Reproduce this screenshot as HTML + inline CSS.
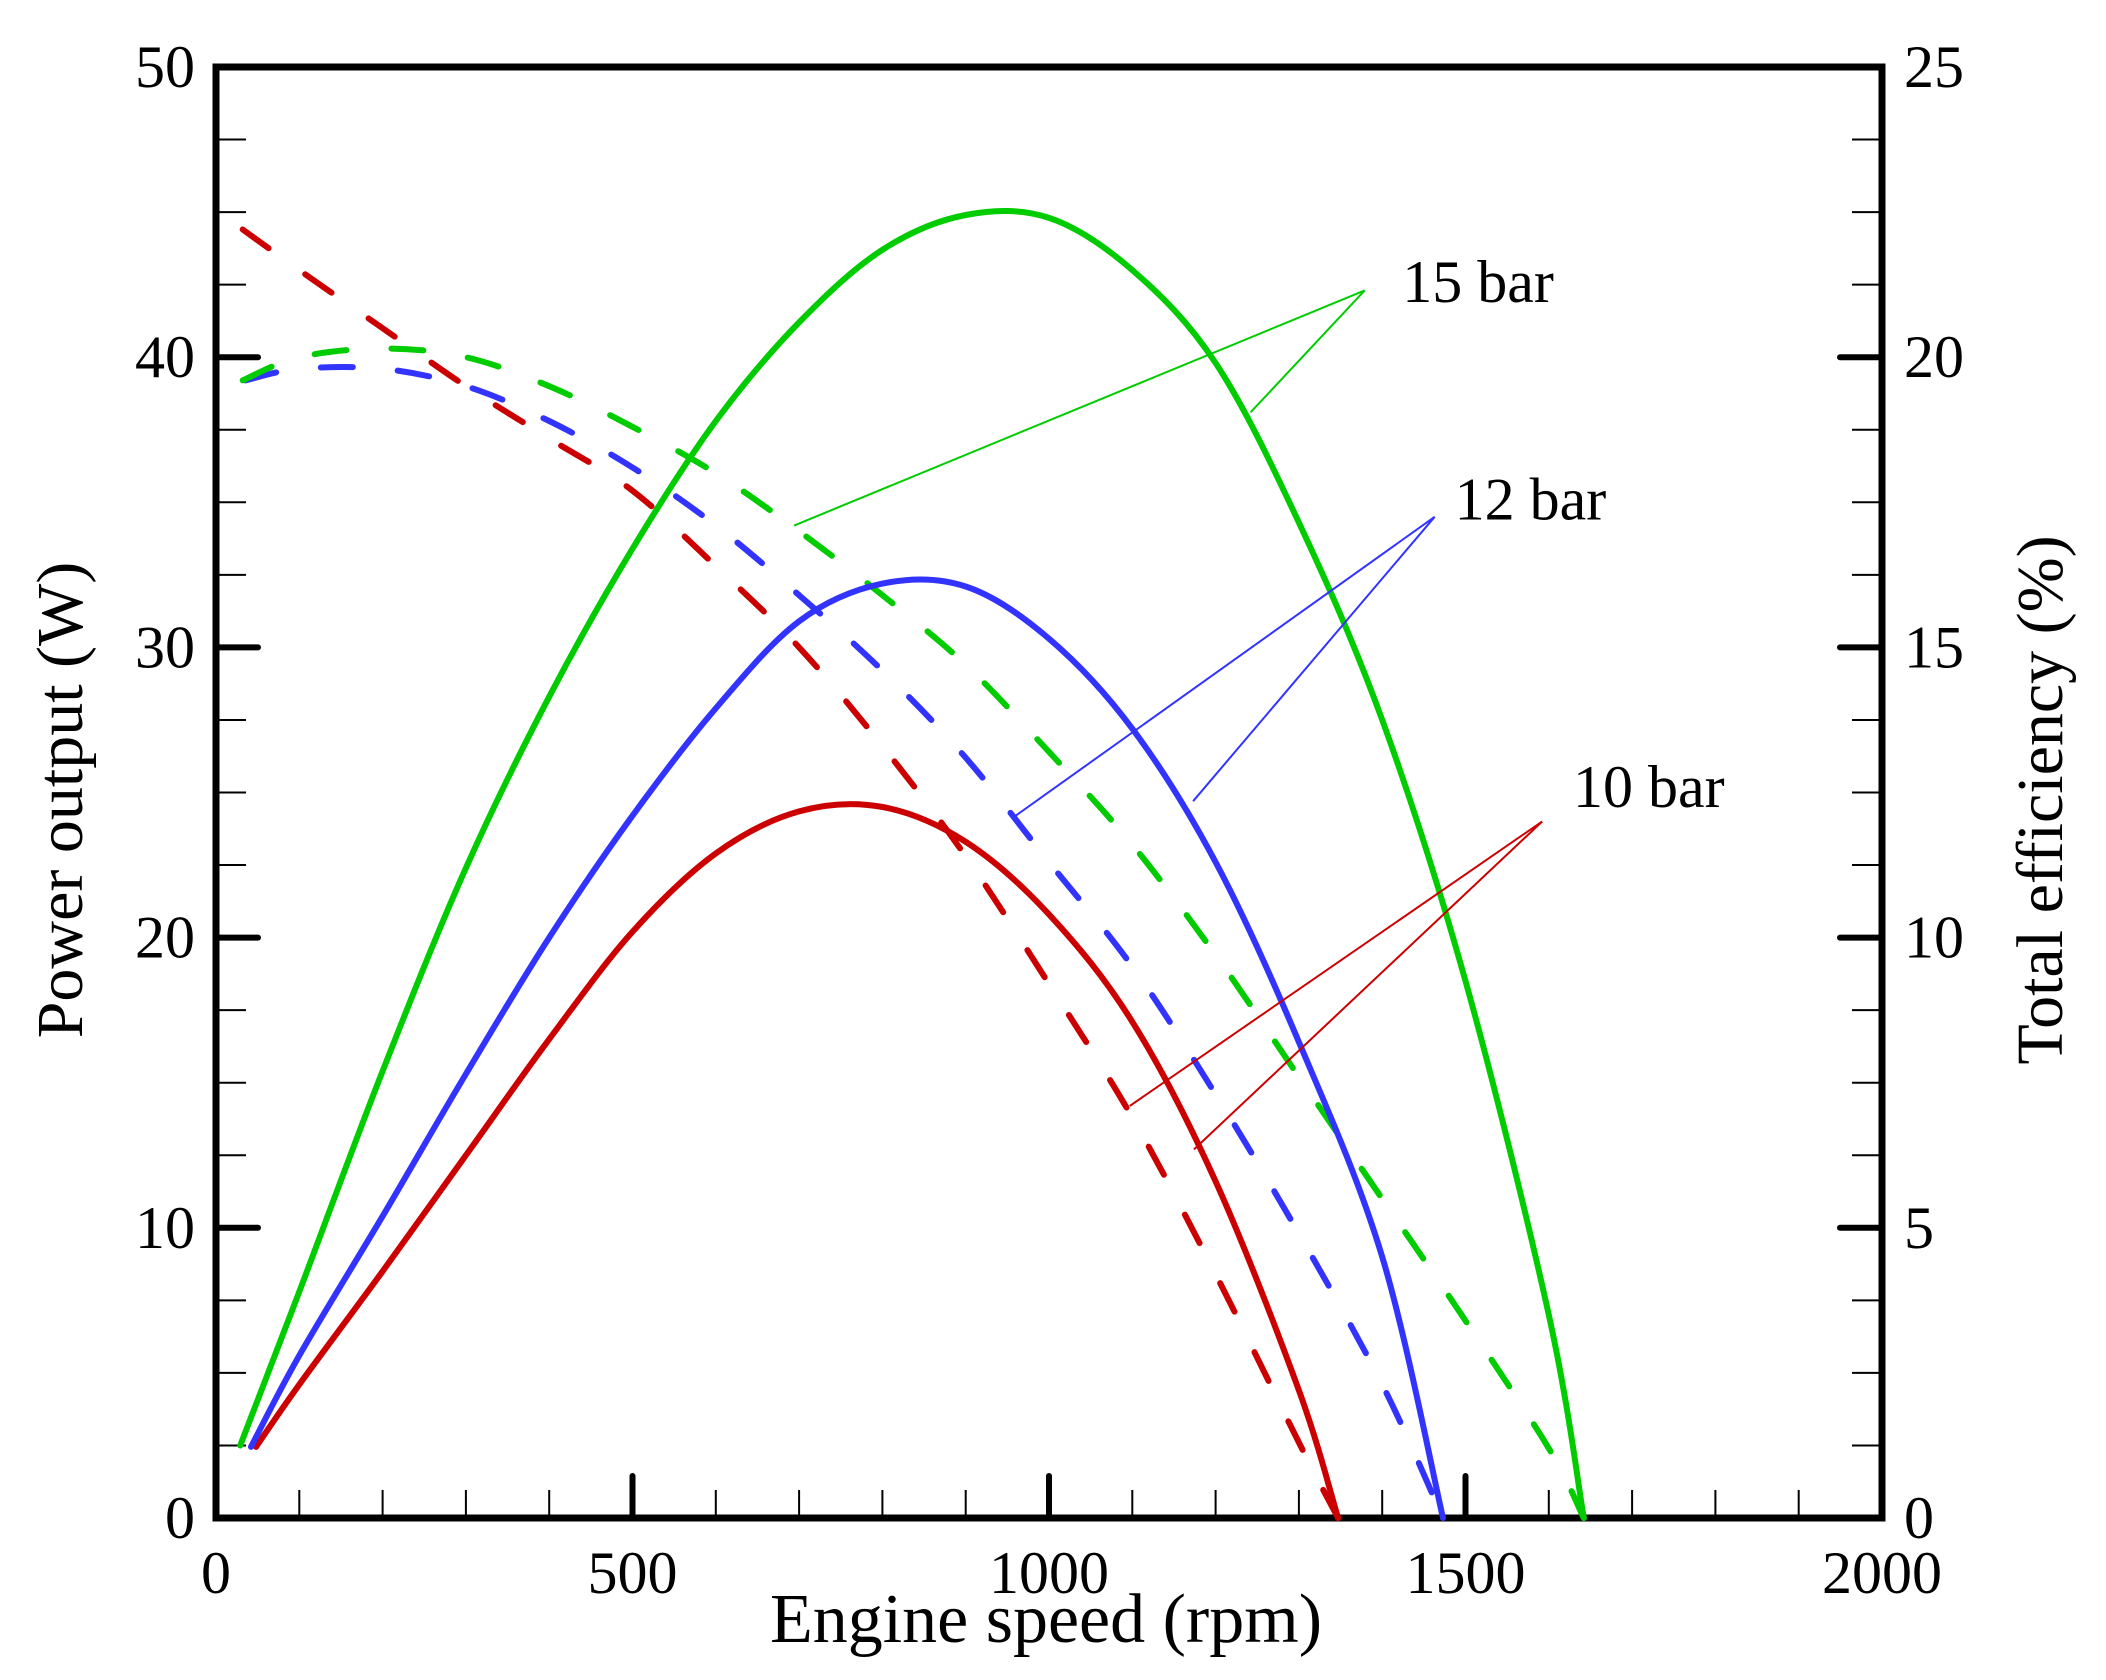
<!DOCTYPE html>
<html><head><meta charset="utf-8"><style>
html,body{margin:0;padding:0;background:#fff;}
svg{display:block;font-family:"Liberation Serif",serif;}
</style></head><body>
<svg id="chart" width="2106" height="1680" viewBox="0 0 2106 1680" xmlns="http://www.w3.org/2000/svg">
<g id="grid-layer"></g>
<g id="series-layer"></g>
<g id="annot-layer"></g>
<text x="1046" y="1642" font-size="70" text-anchor="middle">Engine speed (rpm)</text>
<text transform="translate(82,800) rotate(-90)" font-size="66" text-anchor="middle">Power output (W)</text>
<text transform="translate(2062,800) rotate(-90)" font-size="66" text-anchor="middle">Total efficiency (%)</text>
</svg>
<script>
const xTicks = [0,500,1000,1500,2000];
const yLeftTicks = [0,10,20,30,40,50];
const yRightTicks = [0,5,10,15,20,25];

const rpm15 = [29,100,200,300,400,500,600,700,800,900,1000,1100,1200,1300,1400,1500,1600,1642];
const pow15 = [2.5,7.8,15.4,22.4,28.3,33.4,37.8,41.2,43.7,44.9,44.8,43.0,39.8,34.3,27.5,18.5,7,0];
const rpm12 = [42,100,200,300,400,500,600,700,800,900,1000,1100,1200,1300,1400,1473];
const pow12 = [2.45,5.6,10.4,15.3,20.0,24.2,27.9,30.9,32.2,32.1,30.3,27.2,22.6,16.4,9.0,0];
const rpm10 = [48,100,200,300,400,500,600,700,800,900,1000,1100,1200,1300,1347];
const pow10 = [2.45,4.6,8.5,12.5,16.5,20.2,22.9,24.35,24.5,23.3,20.8,17.1,11.6,4.4,0];

const erpm10 = [32,100,200,300,400,500,600,700,800,900,1000,1100,1200,1300,1347];
const eff10 = [22.2,21.5,20.5,19.5,18.6,17.7,16.4,15.0,13.3,11.4,9.2,6.9,4.2,1.3,0];
const erpm12 = [35,100,200,300,400,500,600,700,800,900,1000,1100,1200,1300,1400,1473];
const eff12 = [19.6,19.8,19.8,19.5,18.9,18.1,17.1,15.9,14.6,13.1,11.3,9.5,7.3,4.9,2.3,0];
const erpm15 = [32,100,200,300,400,500,600,700,800,900,1000,1100,1200,1300,1400,1500,1600,1642];
const eff15 = [19.6,20.0,20.15,20.0,19.5,18.8,18.0,17.0,15.9,14.7,13.2,11.6,9.7,7.6,5.5,3.4,1.2,0];

const labels = ["15 bar","12 bar","10 bar"];
const labelRpm = [1424,1487,1629];
const labelW = [41.9,34.4,24.5];
const apexRpm = [1379,1463,1592];
const apexW = [42.3,34.5,24.0];
const endARpm = [694,960,1097];
const endAW = [34.2,24.2,14.2];
const endBRpm = [1242,1173,1174];
const endBW = [38.1,24.7,12.7];

const X0=216,X1=1882,Y0=1518,Y1=67;
const xs = v => X0 + v/2000*(X1-X0);
const yL = v => Y0 - v/50*(Y0-Y1);
const yR = v => Y0 - v/25*(Y0-Y1);
const NS="http://www.w3.org/2000/svg";
function mk(tag, parent, attrs){const e=document.createElementNS(NS,tag);for(const k in attrs)e.setAttribute(k,attrs[k]);parent.appendChild(e);return e;}
const g=document.getElementById('grid-layer'), s=document.getElementById('series-layer'), a=document.getElementById('annot-layer');

function pathD(xv,yv,fy){
  const p=xv.map((x,i)=>[xs(x),fy(yv[i])]);
  let d="M"+p[0][0].toFixed(1)+","+p[0][1].toFixed(1);
  for(let i=0;i<p.length-1;i++){
    const p0=p[Math.max(0,i-1)],p1=p[i],p2=p[i+1],p3=p[Math.min(p.length-1,i+2)];
    const c1=[p1[0]+(p2[0]-p0[0])/6,p1[1]+(p2[1]-p0[1])/6];
    const c2=[p2[0]-(p3[0]-p1[0])/6,p2[1]-(p3[1]-p1[1])/6];
    d+=" C"+c1.map(v=>v.toFixed(1))+" "+c2.map(v=>v.toFixed(1))+" "+p2.map(v=>v.toFixed(1));
  }
  return d;
}

for(let v=100;v<2000;v+=100){ if(v%500===0) continue;
  const t=mk('line',g,{x1:xs(v),x2:xs(v),y1:Y0,y2:Y0-28,stroke:'#000','stroke-width':2});
   
}
for(let v=2.5;v<50;v+=2.5){ if(v%10===0) continue;
  const t=mk('line',g,{x1:X0,x2:X0+30,y1:yL(v),y2:yL(v),stroke:'#000','stroke-width':2});
   
  const t2=mk('line',g,{x1:X1,x2:X1-30,y1:yL(v),y2:yL(v),stroke:'#000','stroke-width':2});
   
}
xTicks.forEach(v=>{
  if(v>0&&v<2000){
    const t=mk('line',g,{x1:xs(v),x2:xs(v),y1:Y0,y2:Y0-42,stroke:'#000','stroke-width':6,'stroke-linecap':'round'});
     
  }
  const l=mk('text',g,{x:xs(v),y:1593,'font-size':60,'text-anchor':'middle'}); l.textContent=v;
   
});
yLeftTicks.forEach(v=>{
  if(v>0&&v<50){
    const t=mk('line',g,{x1:X0,x2:X0+42,y1:yL(v),y2:yL(v),stroke:'#000','stroke-width':6,'stroke-linecap':'round'});
     
  }
  const l=mk('text',g,{x:195,y:yL(v)+20,'font-size':60,'text-anchor':'end'}); l.textContent=v;
   
});
yRightTicks.forEach(v=>{
  if(v>0&&v<25){
    const t=mk('line',g,{x1:X1,x2:X1-42,y1:yR(v),y2:yR(v),stroke:'#000','stroke-width':6,'stroke-linecap':'round'});
     
  }
  const l=mk('text',g,{x:1904,y:yR(v)+20,'font-size':60,'text-anchor':'start'}); l.textContent=v;
   
});
const frame=mk('rect',g,{x:X0,y:Y1,width:X1-X0,height:Y0-Y1,fill:'none',stroke:'#000','stroke-width':7});
 

const C15='#00cc00',C12='#3333ff',C10='#cc0000';
[[erpm10,eff10,C10,'efficiency-10bar'],[erpm12,eff12,C12,'efficiency-12bar'],[erpm15,eff15,C15,'efficiency-15bar']].forEach(([xv,yv,c,n])=>{
  const p=mk('path',s,{d:pathD(xv,yv,yR),fill:'none',stroke:c,'stroke-width':6,'stroke-dasharray':'32 45','stroke-linecap':'round'});
   
});
[[rpm10,pow10,C10,'power-10bar'],[rpm12,pow12,C12,'power-12bar'],[rpm15,pow15,C15,'power-15bar']].forEach(([xv,yv,c,n])=>{
  const p=mk('path',s,{d:pathD(xv,yv,yL),fill:'none',stroke:c,'stroke-width':6,'stroke-linecap':'round'});
   
});
const cols=[C15,C12,C10];
labels.forEach((t,i)=>{
  const l1=mk('line',a,{x1:xs(endARpm[i]),y1:yL(endAW[i]),x2:xs(apexRpm[i]),y2:yL(apexW[i]),stroke:cols[i],'stroke-width':2});
   
  const l2=mk('line',a,{x1:xs(endBRpm[i]),y1:yL(endBW[i]),x2:xs(apexRpm[i]),y2:yL(apexW[i]),stroke:cols[i],'stroke-width':2});
   
  const tx=mk('text',a,{x:xs(labelRpm[i]),y:yL(labelW[i]),'font-size':60});
  tx.textContent=t;
   
});
</script>
</body></html>
